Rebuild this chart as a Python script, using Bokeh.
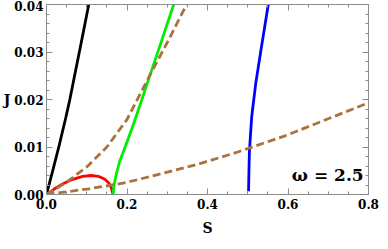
from bokeh.plotting import figure
from bokeh.models import LinearAxis, FixedTicker, NumeralTickFormatter, Range1d, Label, CustomJSTickFormatter
from bokeh.embed import file_html
from bokeh.resources import INLINE

# ---- data ----
black_S = [0, 0.016, 0.032, 0.048, 0.058, 0.070, 0.083, 0.095, 0.105]
black_J = [0, 0.0052, 0.0105, 0.0162, 0.0200, 0.0251, 0.0306, 0.0357, 0.0400]

red_S = [0, 0.02, 0.04, 0.065, 0.09, 0.11, 0.13, 0.145, 0.155, 0.161, 0.165]
red_J = [0, 0.0012, 0.0022, 0.0032, 0.0038, 0.0040, 0.0038, 0.0032, 0.0024, 0.0014, 0.0001]

green_S = [0.166, 0.1665, 0.169, 0.174, 0.182, 0.198, 0.216, 0.235, 0.255, 0.283, 0.316]
green_J = [0, 0.0012, 0.0025, 0.0045, 0.0070, 0.0106, 0.0148, 0.0195, 0.0246, 0.0316, 0.0400]

blue_S = [0.502, 0.503, 0.504, 0.507, 0.510, 0.520, 0.533, 0.551]
blue_J = [0.0007, 0.0050, 0.0088, 0.0128, 0.0165, 0.0235, 0.0305, 0.0400]

dash1_S = [0, 0.05, 0.10, 0.15, 0.20, 0.25, 0.30, 0.348]
dash1_J = [0, 0.0026, 0.0058, 0.0100, 0.0158, 0.0240, 0.0320, 0.0400]

dash2_S = [0, 0.105, 0.170, 0.202, 0.373, 0.470, 0.591, 0.672, 0.800]
dash2_J = [0, 0.0012, 0.0021, 0.0026, 0.0063, 0.0088, 0.0123, 0.0150, 0.0193]

x_major = [0.0, 0.2, 0.4, 0.6, 0.8]
x_minor = [0.05, 0.10, 0.15, 0.25, 0.30, 0.35, 0.45, 0.50, 0.55, 0.65, 0.70, 0.75]
y_major = [0.00, 0.01, 0.02, 0.03, 0.04]
y_minor = [0.002, 0.004, 0.006, 0.008, 0.012, 0.014, 0.016, 0.018,
           0.022, 0.024, 0.026, 0.028, 0.032, 0.034, 0.036, 0.038]

FONT = "DejaVu Serif"
FRAME = "#8c8c8c"

p = figure(width=380, height=241, x_range=Range1d(0, 0.8), y_range=Range1d(0, 0.04),
           output_backend="svg", toolbar_location=None,
           min_border_left=39, min_border_top=4, min_border_right=12, min_border_bottom=47,
           x_axis_location=None, y_axis_location=None)
p.grid.visible = False
p.outline_line_color = FRAME
p.background_fill_color = "white"
p.border_fill_color = "white"


def style(ax, labels=True):
    ax.axis_line_color = FRAME
    ax.major_tick_line_color = FRAME
    ax.minor_tick_line_color = FRAME
    ax.major_tick_in = 6
    ax.major_tick_out = 0
    ax.minor_tick_in = 3
    ax.minor_tick_out = 0
    ax.major_label_text_font = FONT
    ax.major_label_text_font_style = "bold"
    ax.major_label_text_font_size = "12px" if labels else "0px"
    ax.major_label_text_color = "black"
    ax.axis_label_text_font = FONT
    ax.axis_label_text_font_style = "bold"
    ax.axis_label_text_font_size = "14px"
    ax.axis_label_text_color = "black"


xb = LinearAxis(ticker=FixedTicker(ticks=x_major, minor_ticks=x_minor),
                formatter=NumeralTickFormatter(format="0.0"), axis_label="S")
style(xb)
xb.major_label_standoff = 4
xb.axis_label_standoff = 8
p.add_layout(xb, "below")

yl = LinearAxis(ticker=FixedTicker(ticks=y_major, minor_ticks=y_minor),
                formatter=NumeralTickFormatter(format="0.00"), axis_label="J")
style(yl)
yl.major_label_standoff = 3
yl.axis_label_standoff = 1
yl.axis_label_orientation = "horizontal"
p.add_layout(yl, "left")

blank = CustomJSTickFormatter(code="return ''")
xt = LinearAxis(ticker=FixedTicker(ticks=x_major, minor_ticks=x_minor), formatter=blank)
style(xt, labels=False)
xt.major_label_standoff = 0
p.add_layout(xt, "above")

yr = LinearAxis(ticker=FixedTicker(ticks=y_major, minor_ticks=y_minor), formatter=blank)
style(yr, labels=False)
yr.major_label_standoff = 0
p.add_layout(yr, "right")

LW = 2.8
p.line(black_S, black_J, line_color="black", line_width=LW)
p.line(red_S, red_J, line_color="#ff0000", line_width=LW)
p.line(green_S, green_J, line_color="#00ee00", line_width=LW)
p.line(blue_S, blue_J, line_color="#0000ff", line_width=LW)
BROWN = "#a8733e"
p.line(dash1_S, dash1_J, line_color=BROWN, line_width=LW, line_dash="8 4")
p.line(dash2_S, dash2_J, line_color=BROWN, line_width=LW, line_dash="8 4")

p.add_layout(Label(x=0.788, y=0.0041, text="ω = 2.5", text_align="right",
                   text_baseline="alphabetic", text_font=FONT, text_font_style="bold",
                   text_font_size="17px", text_color="black"))

open("out.html", "w").write(file_html(p, INLINE))
